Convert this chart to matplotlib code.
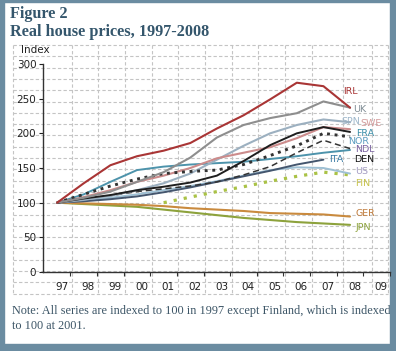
import numpy as np
import matplotlib.pyplot as plt
from matplotlib.patches import Rectangle

# data (index, 1997 = 100)
years = [1997, 1998, 1999, 2000, 2001, 2002, 2003, 2004, 2005, 2006, 2007, 2008]
year_labels = ["97", "98", "99", "00", "01", "02", "03", "04", "05", "06", "07", "08", "09"]

irl = [100, 128, 154, 167, 175, 186, 207, 226, 249, 273, 268, 237]
uk = [100, 107, 116, 130, 144, 165, 194, 212, 222, 229, 246, 237]
spn = [100, 104, 110, 118, 128, 142, 162, 182, 200, 212, 220, 216]
swe = [100, 108, 118, 130, 139, 150, 164, 172, 180, 193, 209, 206]
den = [100, 106, 111, 118, 123, 129, 139, 160, 183, 200, 209, 202]
fra = [100, 112, 124, 134, 142, 145, 147, 155, 168, 182, 200, 195]
nor = [100, 105, 110, 116, 120, 124, 130, 140, 152, 172, 190, 178]
ndl = [100, 112, 130, 147, 152, 155, 157, 159, 163, 167, 172, 176]
ita = [100, 102, 105, 109, 115, 122, 130, 138, 146, 155, 162, np.nan]
us = [100, 103, 107, 112, 118, 124, 131, 139, 147, 151, 150, 142]
fin = [np.nan, np.nan, np.nan, np.nan, 100, 108, 116, 123, 131, 138, 144, 140]
ger = [100, 99, 98, 97, 95, 92, 90, 88, 85, 84, 83, 80]
jpn = [100, 98, 96, 94, 90, 86, 82, 78, 75, 72, 70, 68]

yticks = [0, 50, 100, 150, 200, 250, 300]

# (values, colour, linestyle, width)
series = [
    (jpn, "#8da23c", "-", 1.5),
    (ger, "#c98a3e", "-", 1.5),
    (fin, "#aac246", (0, (1, 2.2)), 2.3),
    (us, "#9ec0d4", "-", 1.4),
    (ita, "#44566e", "-", 1.4),
    (ndl, "#4d93ab", "-", 1.4),
    (nor, "#333333", (0, (4, 2.5)), 1.1),
    (spn, "#9cb0c0", "-", 1.5),
    (swe, "#cc8c8c", "-", 1.5),
    (fra, "#333333", (0, (1, 1.6)), 2.1),
    (den, "#1e1e1e", "-", 1.4),
    (uk, "#8e8e8e", "-", 1.5),
    (irl, "#a93535", "-", 1.5),
]

# end labels: text, colour, pixel x, pixel y
end_labels = [
    ("IRL", "#a93535", 350, 92), ("UK", "#7f8c94", 360, 110),
    ("SPN", "#9db6ca", 351, 122), ("SWE", "#d39a9a", 371, 124),
    ("FRA", "#3a8fa8", 365, 133), ("NOR", "#5e9ec0", 359, 141.5),
    ("NDL", "#7a62a0", 365, 150), ("ITA", "#3b7ca5", 336, 160),
    ("DEN", "#111111", 364, 160), ("US", "#a59ec4", 362, 171),
    ("FIN", "#c6c24a", 363, 183), ("GER", "#c07c3c", 365, 214),
    ("JPN", "#8da23c", 363, 228),
]

W, H = 396, 351
fig = plt.figure(figsize=(W / 100, H / 100), dpi=100)

# background in pixel coordinates
bg = fig.add_axes([0, 0, 1, 1])
bg.set_xlim(0, W)
bg.set_ylim(H, 0)
bg.axis("off")

grid_kw = dict(color="#c4c4c4", lw=0.8, ls=(0, (3, 2)), zorder=1)
vx = [12.5] + [71.7 + 26.67 * k for k in range(10)] + [343, 372, 388]
hy = [45 + 11.3 * k for k in range(23)]
for x in vx:
    bg.plot([x, x], [45, 294], **grid_kw)
for y in hy:
    bg.plot([12.5, 388], [y, y], **grid_kw)

frame = "#6b8ca1"
bg.add_patch(Rectangle((0, 0), 4, H, color=frame, zorder=5))
bg.add_patch(Rectangle((0, 0), W, 2, color=frame, zorder=5))
bg.add_patch(Rectangle((W - 6, 0), 6, H, color=frame, zorder=5))
bg.add_patch(Rectangle((0, H - 7), W, 7, color=frame, zorder=5))

title_col = "#34566c"
bg.text(10, 18, "Figure 2", fontsize=11.7, fontweight="bold", family="Liberation Serif",
        color=title_col, va="baseline")
bg.text(10, 35.5, "Real house prices, 1997-2008", fontsize=11.7, fontweight="bold",
        family="Liberation Serif", color=title_col, va="baseline")
bg.text(21, 50, "Index", fontsize=7.5, color="#222222", va="center")
bg.text(12, 314, "Note: All series are indexed to 100 in 1997 except Finland, which is indexed",
        fontsize=8.8, family="Liberation Serif", color="#3c5566", va="baseline")
bg.text(12, 329, "to 100 at 2001.", fontsize=8.8, family="Liberation Serif",
        color="#3c5566", va="baseline")

for name, col, px, py in end_labels:
    bg.text(px, py, name, fontsize=6.8, color=col, ha="center", va="center", zorder=2)

# main chart
x0, x1, ytop, ybot = 43.3, 390, 64, 272
ax = fig.add_axes([x0 / W, 1 - ybot / H, (x1 - x0) / W, (ybot - ytop) / H])
ax.patch.set_alpha(0)
ax.set_xlim(1996.48, 2009.46)
ax.set_ylim(0, 300)

for vals, col, ls, lw in series:
    ax.plot(years, vals, color=col, ls=ls, lw=lw, solid_capstyle="round")

for s in ["top", "right"]:
    ax.spines[s].set_visible(False)
for s in ["left", "bottom"]:
    ax.spines[s].set_color("#333333")
    ax.spines[s].set_linewidth(1.0)

ax.set_yticks(yticks)
ax.tick_params(axis="y", length=3, pad=2, labelsize=7.5, colors="#222222")
ax.set_xticks([y + 0.5 for y in range(1997, 2010)])
ax.set_xticklabels([])
ax.tick_params(axis="x", length=3, colors="#333333")
for i, lab in enumerate(year_labels):
    ax.text(1997 + i + 0.42, -21, lab, ha="right", va="center", fontsize=7.5,
            color="#222222", clip_on=False)

fig.savefig("out.png", dpi=100)
